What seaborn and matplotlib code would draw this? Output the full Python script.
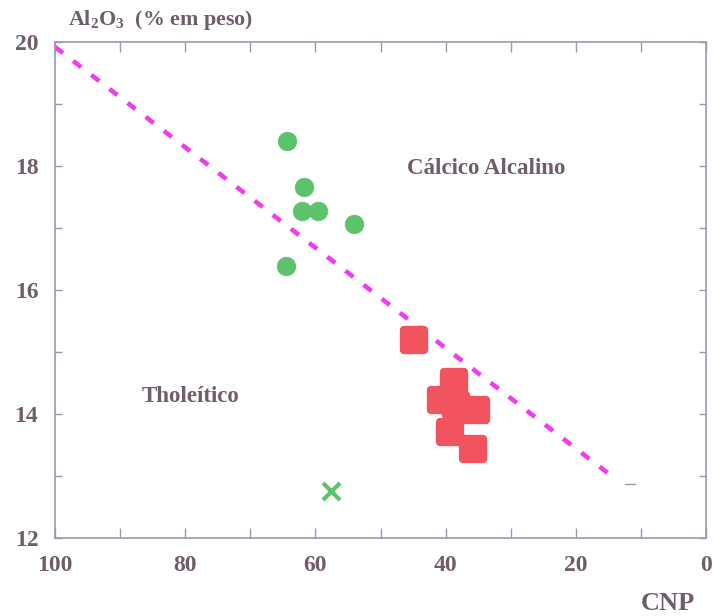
import matplotlib
matplotlib.use("Agg")
import matplotlib.pyplot as plt
import seaborn as sns
import pandas as pd
from matplotlib.ticker import MultipleLocator

# ---- data ----
green_cnp = [64.4, 61.75, 62.1, 59.6, 54.1, 64.5]
green_al = [18.40, 17.66, 17.27, 17.27, 17.06, 16.39]

red_cnp = [44.85, 38.7, 40.7, 38.4, 35.3, 39.4, 35.8]
red_al = [15.19, 14.52, 14.23, 14.15, 14.06, 13.71, 13.44]

cross_cnp = [57.6]
cross_al = [12.76]

line_cnp = [100.0, 14.5]
line_al = [19.92, 13.0]

mark_cnp = [12.4, 10.9]
mark_al = [12.87, 12.87]

x_ticks = [100, 80, 60, 40, 20, 0]
y_ticks = [12, 14, 16, 18, 20]

# ---- style ----
sns.set_style("white")
plt.rcParams["font.family"] = ["Liberation Serif", "DejaVu Serif"]
plt.rcParams["mathtext.default"] = "regular"

TXT = "#6f5d6b"
SPINE = "#9c98ad"
GREEN = "#5cc26c"
RED = "#f2545f"
MAG = "#f03cf0"

fig = plt.figure(figsize=(7.15, 6.16), dpi=100)
ax = fig.add_axes([55 / 715, 1 - 538 / 616, (706 - 55) / 715, (538 - 42) / 616])

df_line = pd.DataFrame({"CNP": line_cnp, "Al": line_al})
sns.lineplot(data=df_line, x="CNP", y="Al", ax=ax, color=MAG, lw=3.3,
             linestyle=(0, (2.2, 2.8)), sort=False, estimator=None)
ax.plot(mark_cnp, mark_al, color=SPINE, lw=1.0)

df_g = pd.DataFrame({"CNP": green_cnp, "Al": green_al})
sns.scatterplot(data=df_g, x="CNP", y="Al", ax=ax, color=GREEN, s=180,
                marker="o", edgecolor=GREEN, linewidth=0.5, zorder=3)

df_r = pd.DataFrame({"CNP": red_cnp, "Al": red_al})
sns.scatterplot(data=df_r, x="CNP", y="Al", ax=ax, color=RED, s=225,
                marker="s", edgecolor=RED, linewidth=6, zorder=3)
ax.collections[-1].set_joinstyle("round")

df_x = pd.DataFrame({"CNP": cross_cnp, "Al": cross_al})
sns.scatterplot(data=df_x, x="CNP", y="Al", ax=ax, color=GREEN, s=150,
                marker="x", linewidth=3, zorder=3)

ax.set_xlim(100, 0)
ax.set_ylim(12, 20)
ax.set_xticks(x_ticks)
ax.set_yticks(y_ticks)
ax.xaxis.set_minor_locator(MultipleLocator(10))
ax.yaxis.set_minor_locator(MultipleLocator(1))
ax.set_xlabel("")
ax.set_ylabel("")

for s in ax.spines.values():
    s.set_color(SPINE)
    s.set_linewidth(1.2)

ax.tick_params(axis="x", which="both", direction="in", top=True, bottom=True,
               length=7, width=1, color=SPINE, pad=12, labelsize=17,
               labelcolor=TXT)
ax.tick_params(axis="y", which="both", direction="in", left=True, right=True,
               length=5, width=1, color=SPINE, pad=12, labelsize=17,
               labelcolor=TXT)
for lab in ax.get_xticklabels() + ax.get_yticklabels():
    lab.set_fontweight("bold")

fig.text(486 / 715, 1 - 168 / 616, "Cálcico Alcalino", ha="center", va="center",
         fontsize=16.5, fontweight="bold", color=TXT)
fig.text(190 / 715, 1 - 396 / 616, "Tholeítico", ha="center", va="center",
         fontsize=16.5, fontweight="bold", color=TXT)
fig.text(68 / 715, 1 - 20 / 616, "Al$_2$O$_3$  (% em peso)", ha="left", va="center",
         fontsize=15.8, fontweight="bold", color=TXT)
fig.text(668 / 715, 1 - 604 / 616, "CNP", ha="center", va="center",
         fontsize=19, fontweight="bold", color=TXT)

fig.savefig("out.png", dpi=100)
